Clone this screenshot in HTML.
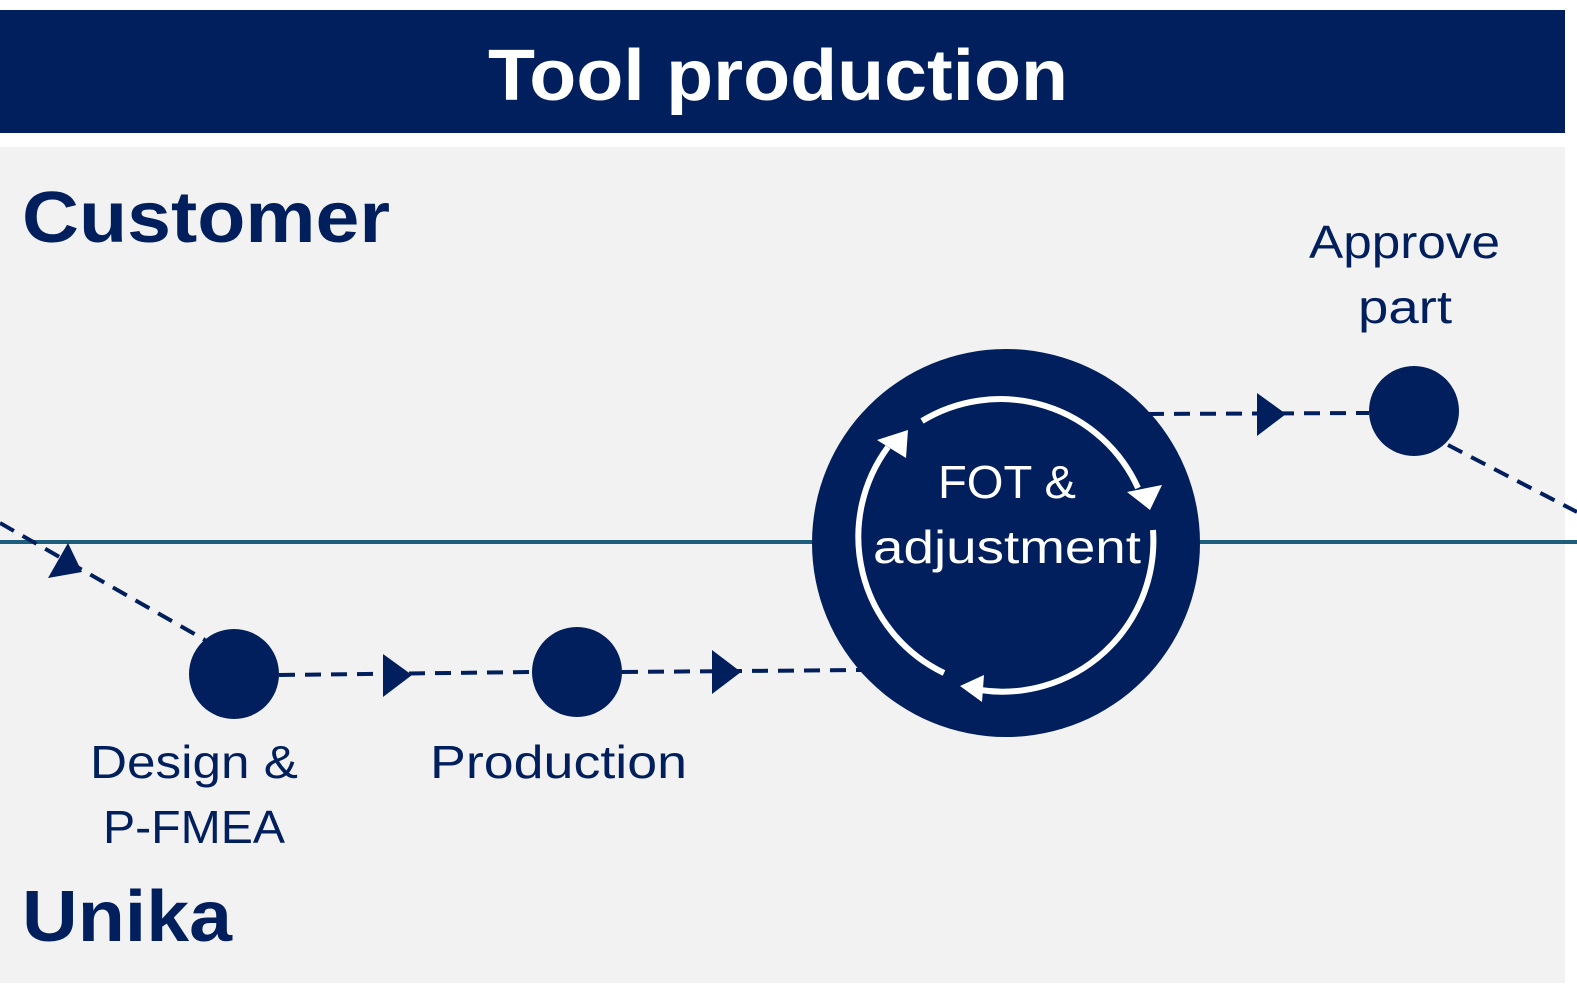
<!DOCTYPE html>
<html><head><style>
html,body{margin:0;padding:0;background:#fff;}
body{width:1577px;height:993px;overflow:hidden;position:relative;font-family:"Liberation Sans",sans-serif;}
</style></head><body>
<svg width="1577" height="993" viewBox="0 0 1577 993" xmlns="http://www.w3.org/2000/svg" style="position:absolute;left:0;top:0">
<rect x="0" y="10" width="1565" height="123" fill="#001f5c"/>
<rect x="0" y="147" width="1565" height="836" fill="#f2f2f2"/>
<text x="488" y="100" textLength="580" lengthAdjust="spacingAndGlyphs" font-size="72" font-weight="bold" fill="#fff">Tool production</text>
<text x="22" y="242" textLength="368" lengthAdjust="spacingAndGlyphs" font-size="72" font-weight="bold" fill="#001f5c">Customer</text>
<text x="22" y="941" textLength="210" lengthAdjust="spacingAndGlyphs" font-size="72" font-weight="bold" fill="#001f5c">Unika</text>
<line x1="0" y1="542" x2="1577" y2="542" stroke="#1d5e7c" stroke-width="4"/>
<g stroke="#001f5c" stroke-width="4" stroke-dasharray="16,10" fill="none">
<line x1="0" y1="523" x2="205" y2="640"/>
<line x1="279" y1="675" x2="532" y2="672"/>
<line x1="622" y1="672" x2="862" y2="670"/>
<line x1="1148" y1="414" x2="1369" y2="413"/>
<line x1="1448" y1="445" x2="1577" y2="512"/>
</g>
<g fill="#001f5c">
<polygon points="48,578 82,572 68,543"/>
<polygon points="383,654 383,697 412,675"/>
<polygon points="712,650 712,694 741,672"/>
<polygon points="1257,393 1257,436 1286,414"/>
<circle cx="234" cy="674" r="45"/>
<circle cx="577" cy="672" r="45"/>
<circle cx="1414" cy="411" r="45"/>
<circle cx="1006" cy="543" r="194"/>
</g>
<g stroke="#fff" stroke-width="6" fill="none">
<path d="M922,421 A151,151 0 0 1 1138,488"/>
<path d="M1153,530 A151,151 0 0 1 980,690"/>
<path d="M944,673 A151,151 0 0 1 888,447"/>
</g>
<g fill="#fff">
<polygon points="1127,492 1162,485 1150,510"/>
<polygon points="984,675 982,702 960,686"/>
<polygon points="877,440 908,430 906,458"/>
</g>
<g font-size="46" fill="#fff">
<text x="938" y="498" textLength="138" lengthAdjust="spacingAndGlyphs">FOT &amp;</text>
<text x="873" y="563" textLength="268" lengthAdjust="spacingAndGlyphs">adjustment</text>
</g>
<g font-size="46" fill="#001f5c">
<text x="1309" y="258" textLength="191" lengthAdjust="spacingAndGlyphs">Approve</text>
<text x="1358" y="323" textLength="94" lengthAdjust="spacingAndGlyphs">part</text>
<text x="90" y="778" textLength="208" lengthAdjust="spacingAndGlyphs">Design &amp;</text>
<text x="103" y="843" textLength="182" lengthAdjust="spacingAndGlyphs">P-FMEA</text>
<text x="430" y="778" textLength="257" lengthAdjust="spacingAndGlyphs">Production</text>
</g>
</svg>
</body></html>
